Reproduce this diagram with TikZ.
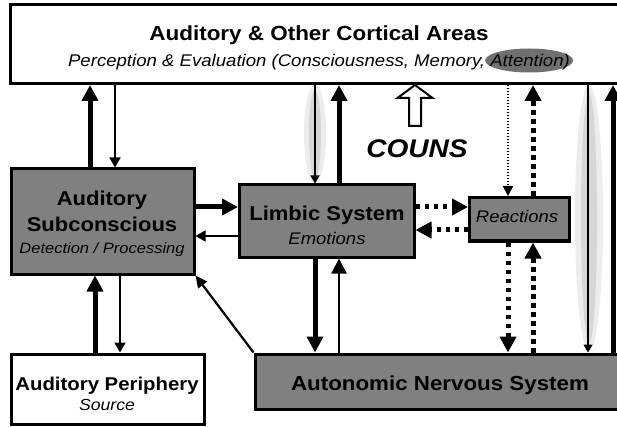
\documentclass[tikz,border=0pt]{standalone}
\usepackage{fontspec}
\setmainfont{Liberation Sans}[FakeStretch=1.1]
\usetikzlibrary{arrows.meta,backgrounds}

\definecolor{boxgray}{RGB}{128,128,128}
\definecolor{attgray}{RGB}{112,112,112}
\definecolor{haloout}{RGB}{236,236,236}
\definecolor{haloin}{RGB}{214,214,214}

\newcommand{\fsz}[1]{\fontsize{#1}{#1}\selectfont}

\begin{document}
\begin{tikzpicture}[x=1pt,y=-1pt,
  box/.style={draw, line width=3pt, inner sep=0pt},
  graybox/.style={box, fill=boxgray},
  lbl/.style={inner sep=0pt, anchor=base},
  thickarr/.style={line width=5pt, -{Triangle[length=16pt,width=16pt]}},
  thinarr/.style={line width=1.6pt, -{Triangle[length=10pt,width=11pt]}},
  midarr/.style={line width=2.2pt, -{Triangle[length=15pt,width=15pt]}},
  diagarr/.style={line width=2.2pt, -{Triangle[length=12pt,width=11pt]}},
  haloarr/.style={line width=1.2pt, -{Triangle[length=8pt,width=9pt]}},
  dasharr/.style={line width=5pt, dash pattern=on 4.5pt off 4.5pt, -{Triangle[length=16pt,width=16pt]}},
  dotarr/.style={line width=2pt, dash pattern=on 1.5pt off 1.5pt, -{Triangle[length=10pt,width=10pt]}}]
\useasboundingbox (0,0) rectangle (617,427);
\begin{scope}[on background layer]
  \fill[white] (0,0) rectangle (617,427);
\end{scope}

% column and row guides for the connectors
\coordinate (c90) at (90,0);
\coordinate (c95) at (95,0);
\coordinate (c115) at (115,0);
\coordinate (c120) at (120,0);
\coordinate (c315) at (315,0);
\coordinate (c339) at (339,0);
\coordinate (c415) at (415,0);
\coordinate (c508) at (508,0);
\coordinate (c533) at (533,0);
\coordinate (c588) at (588,0);
\coordinate (c613) at (613,0);
\coordinate (r207) at (0,207);
\coordinate (r230) at (0,230);
\coordinate (r236) at (0,236);

% soft halos behind the two thin descending links
\fill[haloout] (315,134) ellipse [x radius=11pt, y radius=50pt];
\fill[haloin] (315,134) ellipse [x radius=6pt, y radius=44pt];
\fill[haloout] (589,218) ellipse [x radius=14pt, y radius=133pt];
\fill[haloin] (589,218) ellipse [x radius=8pt, y radius=125pt];

% boxes
\node (top) [box, minimum width=612pt, minimum height=79pt] at (316,44) {};
\node (sub) [graybox, minimum width=182.5pt, minimum height=105pt] at (102.75,221.5) {};
\node (limbic) [graybox, minimum width=174.5pt, minimum height=72pt] at (326.75,221) {};
\node (react) [graybox, minimum width=99.5pt, minimum height=43.5pt] at (519.25,219.25) {};
\node (periph) [box, fill=white, minimum width=192.5pt, minimum height=70pt] at (107.75,389) {};
\node (ans) [graybox, minimum width=367pt, minimum height=55pt] at (438.5,381.5) {};

% labels
\node (topT) [lbl] at (319,41) {\fsz{20.4}\bfseries Auditory \& Other Cortical Areas};
\node (topS) [lbl] at (319,67) {\fsz{16.9}\itshape Perception \& Evaluation (Consciousness, Memory, Attention)};
\begin{scope}[on background layer]
  \fill[attgray] ([xshift=-41pt,yshift=6.5pt]topS.base east) ellipse [x radius=44pt, y radius=12pt];
\end{scope}
\node (subA) [lbl] at (102,206) {\fsz{20}\bfseries Auditory};
\node (subB) [lbl] at (102,232) {\fsz{20}\bfseries Subconscious};
\node (subC) [lbl] at (102,253) {\fsz{15}\itshape Detection / Processing};
\node (limA) [lbl] at (327,221) {\fsz{20}\bfseries Limbic System};
\node (limB) [lbl] at (327,244) {\fsz{16.8}\itshape Emotions};
\node (reactT) [lbl] at (517,223) {\fsz{16.8}\itshape Reactions};
\node (couns) [lbl] at (417,158) {\fsz{25.5}\bfseries\itshape COUNS};
\node (ansT) [lbl] at (440,390) {\fsz{20.3}\bfseries Autonomic Nervous System};
\node (perA) [lbl] at (107,390) {\fsz{18.5}\bfseries Auditory Periphery};
\node (perB) [lbl] at (107,410) {\fsz{16}\itshape Source};

% hollow arrow rising into the cortical box
\draw[line width=2pt, fill=white, line join=miter]
  (c415 |- top.south) -- ++(17.5,13) -- ++(-11.5,0) -- ++(0,28) -- ++(-12,0)
  -- ++(0,-28) -- ++(-11.5,0) -- cycle;

% connectors
\draw[thickarr] (sub.north -| c90) -- (top.south -| c90);
\draw[thinarr] (top.south -| c115) -- (sub.north -| c115);
\draw[thickarr] (periph.north -| c95) -- (sub.south -| c95);
\draw[thinarr] (sub.south -| c120) -- (periph.north -| c120);
\draw[thickarr] (sub.east |- r207) -- (limbic.west |- r207);
\draw[thinarr] (limbic.west |- r236) -- (sub.east |- r236);
\draw[haloarr] (top.south -| c315) -- (limbic.north -| c315);
\draw[thickarr] (limbic.north -| c339) -- (top.south -| c339);
\draw[thickarr] (limbic.south -| c315) -- (ans.north -| c315);
\draw[midarr] (ans.north -| c339) -- (limbic.south -| c339);
\draw[diagarr] (ans.north west) -- (sub.south east);
\draw[dasharr] (limbic.east |- r207) -- (react.west |- r207);
\draw[dasharr] (react.west |- r230) -- (limbic.east |- r230);
\draw[dotarr] (top.south -| c508) -- (react.north -| c508);
\draw[dasharr] (react.north -| c533) -- (top.south -| c533);
\draw[dasharr] (react.south -| c508) -- (ans.north -| c508);
\draw[dasharr] (ans.north -| c533) -- (react.south -| c533);
\draw[haloarr] (top.south -| c588) -- (ans.north -| c588);
\draw[thickarr] (ans.north -| c613) -- (top.south -| c613);
\end{tikzpicture}
\end{document}
